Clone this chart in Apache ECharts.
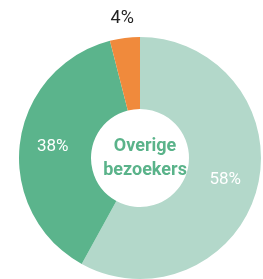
<!DOCTYPE html>
<html>
<head>
<meta charset="utf-8">
<script src="https://cdn.jsdelivr.net/npm/echarts@6/dist/echarts.min.js"></script>
<style>
    html, body { margin: 0; padding: 0; background: #fff; }
    #chart { width: 263px; height: 279px; }
</style>
</head>
<body>
<div id="chart"></div>
<script>
// slice names, values and colours, clockwise from the top
let names = ['Overige bezoekers', 'Groep B', 'Groep C'];
let values = [58, 38, 4];
let colors = ['#b3d8ca', '#5bb48c', '#f08a3c'];

let data = values.map(function (v, i) {
    let item = { name: names[i], value: v, itemStyle: { color: colors[i] } };
    if (i === 2) {
        // small slice: label sits above the ring
        item.label = {
            position: 'outside',
            color: '#222',
            fontSize: 18,
            offset: [15, -12]
        };
        item.labelLine = { show: false, length: 8, length2: 0 };
    }
    return item;
});

let option = {
    animation: false,
    title: {
        text: 'Overige\nbezoekers',
        left: 140,
        top: 129,
        textAlign: 'center',
        textStyle: {
            fontFamily: 'Roboto',
            fontSize: 18,
            fontWeight: 'bold',
            color: '#5ab38a',
            lineHeight: 24
        }
    },
    series: [{
        type: 'pie',
        center: [140, 158],
        radius: [49, 121],
        startAngle: 90,
        clockwise: true,
        silent: true,
        label: {
            show: true,
            position: 'inside',
            formatter: '{c}%',
            color: '#fff',
            fontFamily: 'Roboto',
            fontSize: 17
        },
        labelLine: { show: false },
        data: data
    }]
};

let chart = echarts.init(document.getElementById('chart'));
chart.setOption(option);
</script>
</body>
</html>
